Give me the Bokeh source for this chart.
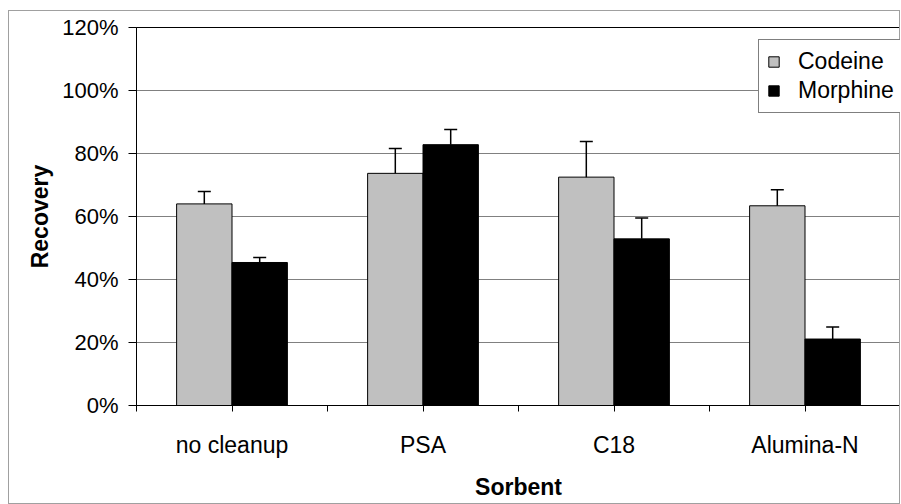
from bokeh.plotting import figure
from bokeh.models import (ColumnDataSource, Range1d, FixedTicker, PrintfTickFormatter,
                          Whisker, TeeHead, Legend, LegendItem)
from bokeh.embed import file_html
from bokeh.resources import INLINE

categories = ["no cleanup", "PSA", "C18", "Alumina-N"]
codeine = [64.0, 73.7, 72.5, 63.4]
codeine_err = [3.9, 7.9, 11.3, 5.1]
morphine = [45.4, 82.8, 52.9, 21.1]
morphine_err = [1.6, 4.8, 6.6, 3.8]
y_ticks = [0, 20, 40, 60, 80, 100, 120]

bar_w = 0.29
n = len(categories)
centers = [i + 0.5 for i in range(n)]

src_c = ColumnDataSource(dict(
    x=[c - bar_w / 2 for c in centers], top=codeine,
    upper=[v + e for v, e in zip(codeine, codeine_err)]))
src_m = ColumnDataSource(dict(
    x=[c + bar_w / 2 for c in centers], top=morphine,
    upper=[v + e for v, e in zip(morphine, morphine_err)]))

FONT = "Liberation Sans"

p = figure(width=892, height=494, output_backend="svg", toolbar_location=None,
           x_range=Range1d(0, n), y_range=Range1d(0, 120),
           min_border_left=127, min_border_right=1, min_border_top=16, min_border_bottom=100)
p.styles = {"border": "1px solid #a0a0a0", "margin-left": "8px", "margin-top": "10px"}
p.background_fill_color = "white"
p.border_fill_color = "white"
p.outline_line_color = "black"
p.outline_line_width = 1

r_c = p.vbar(x="x", top="top", width=bar_w, source=src_c,
             fill_color="#C0C0C0", line_color="black", line_width=1)
r_m = p.vbar(x="x", top="top", width=bar_w, source=src_m,
             fill_color="black", line_color="black", line_width=1)

for src in (src_c, src_m):
    w = Whisker(base="x", lower="top", upper="upper", source=src,
                lower_head=None, upper_head=TeeHead(size=13, line_width=1.5, line_color="black"),
                line_color="black", line_width=1.5, level="annotation")
    p.add_layout(w)

# x axis
ticks_x = [i * 0.5 for i in range(2 * n + 1)]
p.xaxis.ticker = FixedTicker(ticks=ticks_x)
overrides = {}
for t in ticks_x:
    overrides[t] = ""
for i, c in enumerate(categories):
    overrides[centers[i]] = c
p.xaxis.major_label_overrides = overrides
p.xaxis.major_tick_out = 6
p.xaxis.major_tick_in = 0
p.xaxis.minor_tick_line_color = None
p.xaxis.axis_line_color = "black"
p.xaxis.major_tick_line_color = "black"
p.xaxis.major_label_text_font = FONT
p.xaxis.major_label_text_font_size = "23px"
p.xaxis.major_label_text_color = "black"
p.xaxis.major_label_standoff = 20
p.xaxis.axis_label = "Sorbent"
p.xaxis.axis_label_text_font = FONT
p.xaxis.axis_label_text_font_size = "23px"
p.xaxis.axis_label_text_font_style = "bold"
p.xaxis.axis_label_text_color = "black"
p.xaxis.axis_label_standoff = 13

# y axis
p.yaxis.ticker = FixedTicker(ticks=y_ticks)
p.yaxis.formatter = PrintfTickFormatter(format="%d%%")
p.yaxis.major_tick_out = 8
p.yaxis.major_tick_in = 0
p.yaxis.minor_tick_line_color = None
p.yaxis.axis_line_color = "black"
p.yaxis.major_tick_line_color = "black"
p.yaxis.major_label_text_font = FONT
p.yaxis.major_label_text_font_size = "22px"
p.yaxis.major_label_text_color = "black"
p.yaxis.major_label_standoff = 10
p.yaxis.axis_label = "Recovery"
p.yaxis.axis_label_text_font = FONT
p.yaxis.axis_label_text_font_size = "23px"
p.yaxis.axis_label_text_font_style = "bold"
p.yaxis.axis_label_text_color = "black"
p.yaxis.axis_label_standoff = 6

p.xgrid.grid_line_color = None
p.ygrid.grid_line_color = "#808080"
p.ygrid.grid_line_width = 1

legend = Legend(items=[LegendItem(label="Codeine", renderers=[r_c]),
                       LegendItem(label="Morphine", renderers=[r_m])],
                location=(622, 292), orientation="vertical")
legend.border_line_color = "black"
legend.border_line_width = 1
legend.background_fill_color = "white"
legend.background_fill_alpha = 1
legend.glyph_width = 13
legend.glyph_height = 13
legend.label_standoff = 18
legend.padding = 8
legend.spacing = 2
legend.margin = 0
legend.label_height = 20
legend.label_text_font = FONT
legend.label_text_font_size = "23px"
legend.label_text_color = "black"
legend.label_text_baseline = "middle"
p.add_layout(legend, "center")

open("out.html", "w").write(file_html(p, INLINE))
